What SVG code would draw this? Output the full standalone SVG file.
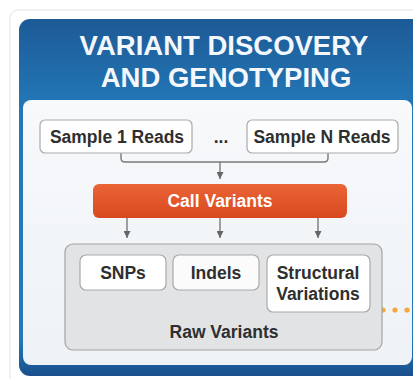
<svg xmlns="http://www.w3.org/2000/svg" width="413" height="379" viewBox="0 0 413 379">
  <defs>
    <linearGradient id="blueBand" x1="0" y1="0" x2="0" y2="1">
      <stop offset="0" stop-color="#1d5a96"/>
      <stop offset="0.25" stop-color="#2378b8"/>
      <stop offset="0.9" stop-color="#2379b9"/>
      <stop offset="1" stop-color="#1a4e8c"/>
    </linearGradient>
    <linearGradient id="orangeFill" x1="0" y1="0" x2="0" y2="1">
      <stop offset="0" stop-color="#ea6436"/>
      <stop offset="1" stop-color="#d9491f"/>
    </linearGradient>
    <linearGradient id="panelFill" x1="0" y1="0" x2="0" y2="1">
      <stop offset="0" stop-color="#f7f9fb"/>
      <stop offset="1" stop-color="#eef2f6"/>
    </linearGradient>
    <marker id="arrow" viewBox="0 0 8 8" refX="8" refY="4" markerWidth="7" markerHeight="7" markerUnits="userSpaceOnUse" orient="auto">
      <path d="M0,0 L8,4 L0,8 Z" fill="#666666"/>
    </marker>
    <style>
      .title { font-family: "Liberation Sans", Arial, sans-serif; font-weight: bold; font-size: 27.5px; fill: #f4f8fc; text-anchor: middle; }
      .box { fill: #ffffff; stroke: #a9a9a9; stroke-width: 1.2; }
      .label { font-family: "Liberation Sans", Arial, sans-serif; font-weight: bold; font-size: 17.5px; fill: #2f2f2f; text-anchor: middle; }
      .wire { fill: none; stroke: #7a7a7a; stroke-width: 1.4; }
    </style>
  </defs>

  <!-- page background and card -->
  <rect x="0" y="0" width="413" height="379" fill="#ffffff"/>
  <rect x="10" y="10" width="420" height="390" rx="8" fill="#ffffff" stroke="#e3e3e3" stroke-width="1"/>

  <!-- blue header band framing the workflow -->
  <g id="header">
    <rect x="19" y="19" width="410" height="357" rx="11" fill="url(#blueBand)"/>
    <text class="title" x="224" y="55">VARIANT DISCOVERY</text>
    <text class="title" x="226" y="87">AND GENOTYPING</text>
  </g>

  <!-- inner light panel -->
  <rect id="panel" x="23" y="100" width="389" height="265" rx="8" fill="url(#panelFill)"/>

  <!-- connectors -->
  <g id="connectors">
    <path class="wire" d="M121,153 L121,158 Q121,162 125,162 L324,162 Q328,162 328,158 L328,153"/>
    <line class="wire" x1="220" y1="162" x2="220" y2="179" marker-end="url(#arrow)"/>
    <line class="wire" x1="127" y1="218" x2="127" y2="238" marker-end="url(#arrow)"/>
    <line class="wire" x1="220" y1="218" x2="220" y2="238" marker-end="url(#arrow)"/>
    <line class="wire" x1="318" y1="218" x2="318" y2="238" marker-end="url(#arrow)"/>
    <g id="continuation" fill="#f2a93c">
      <circle cx="383" cy="310" r="2.6"/>
      <circle cx="395" cy="310" r="2.6"/>
      <circle cx="407" cy="310" r="2.6"/>
    </g>
  </g>

  <g id="sample1">
    <rect class="box" x="40" y="120" width="152" height="33" rx="5"/>
    <text class="label" x="117" y="143">Sample 1 Reads</text>
  </g>

  <g id="ellipsis">
    <text class="label" x="221" y="143">...</text>
  </g>

  <g id="sampleN">
    <rect class="box" x="247" y="120" width="151" height="33" rx="5"/>
    <text class="label" x="322" y="143">Sample N Reads</text>
  </g>

  <g id="callVariants">
    <rect x="93" y="184" width="254" height="34" rx="6" fill="url(#orangeFill)"/>
    <text class="label" x="220" y="207" style="fill:#ffffff">Call Variants</text>
  </g>

  <g id="rawVariants">
    <rect x="65" y="244" width="317" height="106" rx="8" fill="#e2e3e5" stroke="#a3a3a3" stroke-width="1.2"/>
    <text class="label" x="224" y="338">Raw Variants</text>
  </g>

  <g id="snps">
    <rect class="box" x="80" y="255" width="86" height="35" rx="6"/>
    <text class="label" x="123" y="279">SNPs</text>
  </g>

  <g id="indels">
    <rect class="box" x="173" y="255" width="86" height="35" rx="6" style="fill:#fbfbfb"/>
    <text class="label" x="216" y="279">Indels</text>
  </g>

  <g id="structural">
    <rect class="box" x="267" y="255" width="103" height="57" rx="6"/>
    <text class="label" x="318" y="279">Structural</text>
    <text class="label" x="318" y="300">Variations</text>
  </g>
</svg>
